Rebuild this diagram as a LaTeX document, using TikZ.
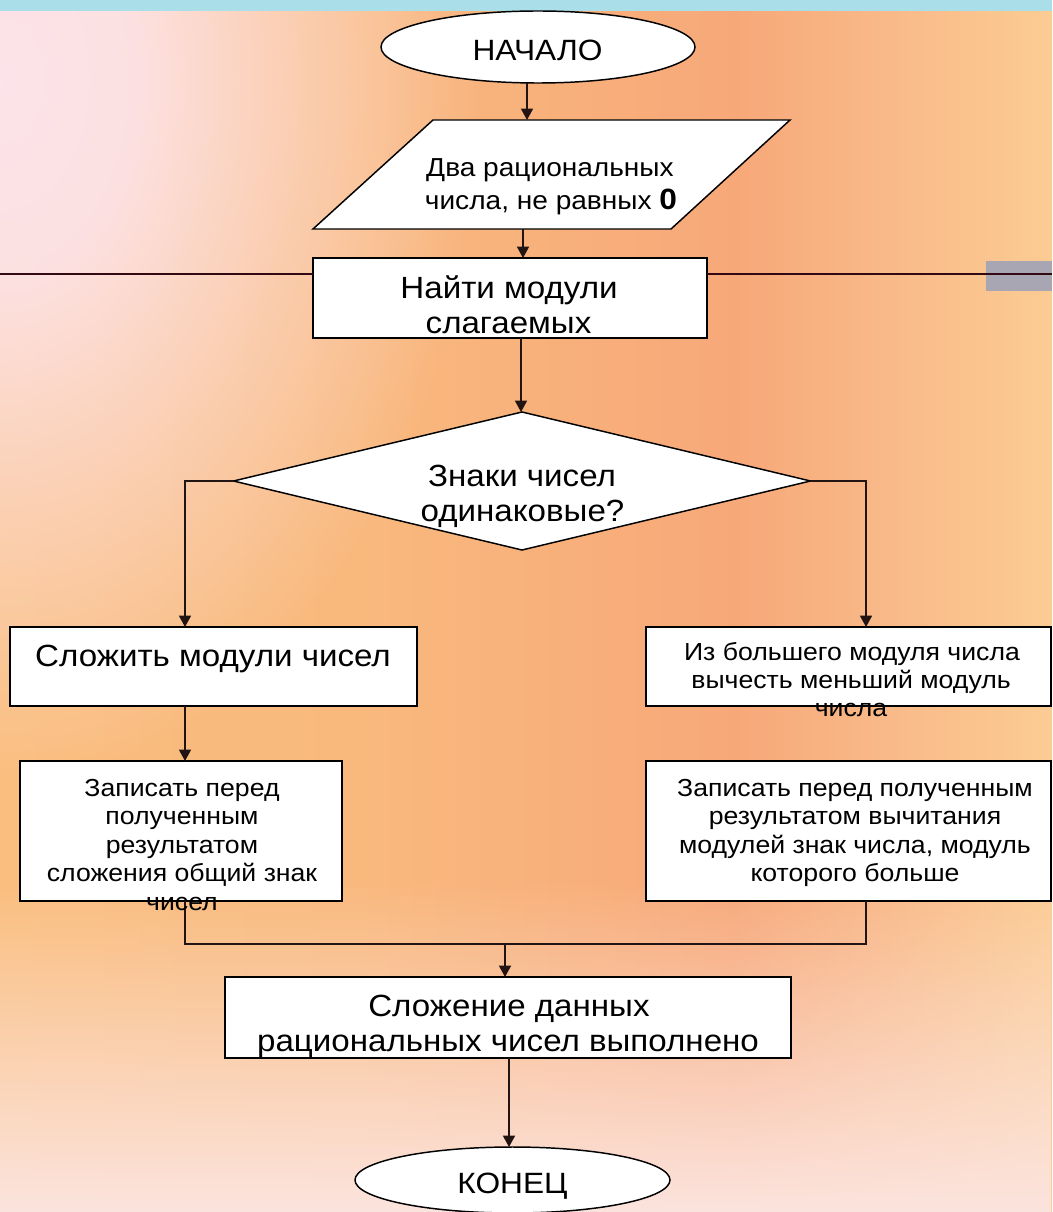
\documentclass[tikz,border=0pt]{standalone}
\usepackage{fontspec}
\setmainfont{Liberation Sans}[FakeStretch=1.08]
\usetikzlibrary{shapes.geometric,arrows.meta,calc,fadings}
\pgfdeclarehorizontalshading{bgh}{100bp}{rgb(0bp)=(0.980,0.745,0.494); rgb(25bp)=(0.980,0.745,0.494); rgb(42bp)=(0.976,0.725,0.490); rgb(60bp)=(0.969,0.659,0.475); rgb(67bp)=(0.976,0.725,0.533); rgb(75bp)=(0.984,0.800,0.580); rgb(100bp)=(0.984,0.800,0.580)}
\pgfdeclareradialshading{tlsh}{\pgfpointorigin}{rgb(0bp)=(1,1,1); rgb(7bp)=(0.92,0.92,0.92); rgb(16bp)=(0.45,0.45,0.45); rgb(25bp)=(0,0,0); rgb(50bp)=(0,0,0)}
\pgfdeclarefading{tlfade}{\pgfuseshading{tlsh}}
\definecolor{pinkc}{RGB}{253,228,234}
\definecolor{botc}{RGB}{252,228,222}
\definecolor{topband}{RGB}{170,222,232}
\definecolor{maroon}{RGB}{50,8,18}
\definecolor{grayblk}{RGB}{168,166,178}
\definecolor{conn}{RGB}{35,20,20}
\tikzset{
  shapebox/.style={draw=black, fill=white, line width=1.1pt, inner sep=0pt, outer sep=0pt},
  rectbox/.style={shapebox, rectangle},
  ovalbox/.style={shapebox, ellipse},
  arr/.style={draw=conn, line width=1.1pt, -{Triangle[length=8.5pt,width=9pt]}},
  plain/.style={draw=conn, line width=1.1pt},
  txt/.style={inner sep=0pt, anchor=base, text=black},
  bigt/.style={txt, font=\fontsize{23}{23}\selectfont},
  ovt/.style={txt, font=\fontsize{22}{22}\selectfont},
  smt/.style={txt, font=\fontsize{18.5}{18.5}\selectfont},
  part/.style={txt, font=\fontsize{19.5}{19.5}\selectfont},
}
\begin{document}
\begin{tikzpicture}[x=0.75pt,y=-0.75pt]
\useasboundingbox (0,0) rectangle (1052,1212);
% background
\shade[shading=bgh] (0,11) rectangle (1052,1212);
\begin{scope}
  \clip (0,11) rectangle (1052,1212);
  \fill[pinkc, path fading=tlfade] (0,80) ellipse [x radius=480, y radius=700];
  \fill[botc, path fading=north] (0,880) rectangle (1052,1212);
\end{scope}
\fill[topband] (0,0) rectangle (1052,11);
% columns
\coordinate (cA) at (527,0);
\coordinate (cB) at (523,0);
\coordinate (cC) at (521,0);
\coordinate (cL) at (185,0);
\coordinate (cR) at (866,0);
\coordinate (cF) at (509,0);
\coordinate (mL) at (185,944);
\coordinate (mR) at (866,944);
\coordinate (cM) at (505,944);
\coordinate (edgeL) at (0,274);
\coordinate (edgeR) at (1052,274);
% shapes
\node[ovalbox, minimum width=235.5pt, minimum height=54pt] (start) at (538,47) {};
\node[inner sep=0pt, outer sep=0pt, minimum width=357.75pt, minimum height=81.75pt] (para) at (551.5,174.5) {};
\filldraw[fill=white, draw=black, line width=1.1pt] ($(para.north west)+(120,0)$) -- (para.north east) -- ($(para.south east)+(-119,0)$) -- (para.south west) -- cycle;
\node[rectbox, minimum width=295.5pt, minimum height=60pt] (find) at (510,298) {};
\fill[grayblk] (986,261) rectangle (1052,291);
\draw[maroon, line width=2.2pt] (edgeL) -- (edgeL -| find.west);
\draw[maroon, line width=2.2pt] (edgeR -| find.east) -- (edgeR);
\node[shapebox, diamond, minimum width=432.75pt, minimum height=103.5pt] (dia) at (522,481) {};
\node[rectbox, minimum width=305.25pt, minimum height=59.25pt] (lb1) at (213.5,666.5) {};
\node[rectbox, minimum width=303.75pt, minimum height=59.25pt] (rb1) at (848.5,666.5) {};
\node[rectbox, minimum width=241.5pt, minimum height=105pt] (lb2) at (181,831) {};
\node[rectbox, minimum width=303.75pt, minimum height=105pt] (rb2) at (848.5,831) {};
\node[rectbox, minimum width=424.5pt, minimum height=60.75pt] (fin) at (508,1017.5) {};
\node[ovalbox, minimum width=236.25pt, minimum height=49.5pt] (stop) at (512.5,1180) {};
% connectors
\draw[arr] (start.south -| cA) -- (para.north -| cA);
\draw[arr] (para.south -| cB) -- (find.north -| cB);
\draw[arr] (find.south -| cC) -- (dia.north -| cC);
\draw[arr] (dia.west) -| (lb1.north -| cL);
\draw[arr] (dia.east) -| (rb1.north -| cR);
\draw[arr] (lb1.south -| cL) -- (lb2.north -| cL);
\draw[plain] (lb2.south -| cL) -- (mL) -- (mR) -- (rb2.south -| cR);
\draw[arr] (cM) -- (fin.north -| cM);
\draw[arr] (fin.south -| cF) -- (stop.north -| cF);
% texts
\node[ovt] (t0) at (537.5,61) {НАЧАЛО};
\node[part] (t1a) at (550,177) {Два рациональных};
\node[part] (t1b) at (551,210) {числа, не равных {\fontsize{22}{22}\selectfont\bfseries 0}};
\node[bigt] (t2a) at (509,299) {Найти модули};
\node[bigt] (t2b) at (508.5,333) {слагаемых};
\node[bigt] (t3a) at (522,486) {Знаки чисел};
\node[bigt] (t3b) at (522.5,521) {одинаковые?};
\node[bigt] (t4) at (213,666) {Сложить модули чисел};
\node[smt] (t5a) at (852,660) {Из большего модуля числа};
\node[smt] (t5b) at (851,688) {вычесть меньший модуль};
\node[smt] (t5c) at (851,716) {числа};
\node[smt] (t6a) at (182,796) {Записать перед};
\node[smt] (t6b) at (182,824.5) {полученным};
\node[smt] (t6c) at (182,853) {результатом};
\node[smt] (t6d) at (182,881.5) {сложения общий знак};
\node[smt] (t6e) at (182,910) {чисел};
\node[smt] (t7a) at (855,796) {Записать перед полученным};
\node[smt] (t7b) at (855,824.5) {результатом вычитания};
\node[smt] (t7c) at (855,853) {модулей знак числа, модуль};
\node[smt] (t7d) at (855,881.5) {которого больше};
\node[bigt] (t8a) at (509,1016) {Сложение данных};
\node[bigt] (t8b) at (508,1051) {рациональных чисел выполнено};
\node[ovt] (t9) at (512.5,1193) {КОНЕЦ};
\end{tikzpicture}
\end{document}
